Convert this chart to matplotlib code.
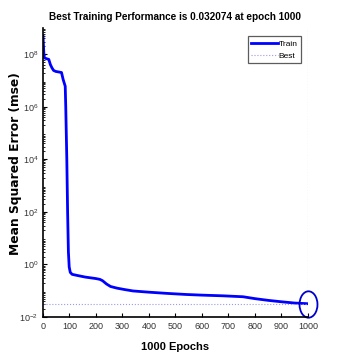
import numpy as np
import matplotlib
matplotlib.use("Agg")
from matplotlib import pyplot as plt
from matplotlib.path import Path
from matplotlib.transforms import Affine2D

# training record (epoch, mse)
epochs = [0, 4, 8, 22, 28, 34, 40, 48, 70, 76, 84, 86, 90, 93, 96, 99, 103,
          110, 130, 160, 200, 215, 225, 240, 255, 280, 310, 340, 400, 470,
          540, 600, 680, 755, 800, 850, 900, 950, 1000]
mse = [5e8, 8e7, 7e7, 6.3e7, 4e7, 3e7, 2.4e7, 2.2e7, 2.0e7, 1.1e7,
       6e6, 1e6, 1e4, 1e2, 3.0, 0.8, 0.5, 0.42, 0.38, 0.33, 0.29, 0.27,
       0.24, 0.18, 0.145, 0.125, 0.11, 0.098, 0.088, 0.079, 0.072, 0.068,
       0.064, 0.059, 0.050, 0.043, 0.038, 0.034, 0.032074]
best_epoch = 1000
best_perf = 0.032074

plt.rcParams['font.family'] = ['Liberation Sans', 'DejaVu Sans']

fig = plt.figure(figsize=(3.41, 3.57), dpi=100)
ax = fig.add_axes([0.126, 0.112, 0.777, 0.81])

ax.semilogy(epochs, mse, color='#0000ff', lw=2, label='Train')
ax.axhline(best_perf, color='#9b9be6', lw=0.8, ls=':', label='Best')
ax.axvline(best_epoch, color='#9b9be6', lw=0.8, ls=':')

# open ellipse marking the best epoch
circ = Path.unit_circle()
ell = circ.transformed(Affine2D().scale(0.68, 1.0))
ax.plot([best_epoch], [best_perf], marker=ell, ms=19, mfc='none',
        mec='#0000cc', mew=1.3, ls='none', clip_on=False)

ax.set_xlim(0, 1000)
ax.set_ylim(1e-2, 1e9)
ax.set_xticks(range(0, 1001, 100))
ax.set_yticks([1e-2, 1e0, 1e2, 1e4, 1e6, 1e8])
ax.tick_params(axis='both', which='both', direction='in', labelsize=6.5,
               labelcolor='#333333')
ax.tick_params(which='major', length=3)
ax.tick_params(which='minor', length=1.5)
ax.yaxis.set_minor_locator(matplotlib.ticker.LogLocator(base=10, subs=np.arange(2, 10), numticks=30))
ax.yaxis.set_minor_formatter(matplotlib.ticker.NullFormatter())

for s in ['top', 'right']:
    ax.spines[s].set_visible(False)
ax.spines['left'].set_linewidth(1.2)
ax.spines['bottom'].set_linewidth(1.2)

ax.set_title('Best Training Performance is 0.032074 at epoch 1000',
             fontsize=7.2, fontweight='bold', pad=6)
ax.set_xlabel('1000 Epochs', fontsize=8, fontweight='bold', labelpad=8)
ax.set_ylabel('Mean Squared Error (mse)', fontsize=8.8, fontweight='bold',
              family=['DejaVu Sans'])
ax.yaxis.set_label_coords(-0.078, 0.53)

leg = ax.legend(loc='upper right', bbox_to_anchor=(0.99, 0.985), fontsize=6,
                frameon=True, fancybox=False, edgecolor='#333333',
                handlelength=3.2, handletextpad=0.1, borderpad=0.4,
                labelspacing=0.5)
leg.get_frame().set_linewidth(0.9)

fig.savefig('out.png', dpi=100)
